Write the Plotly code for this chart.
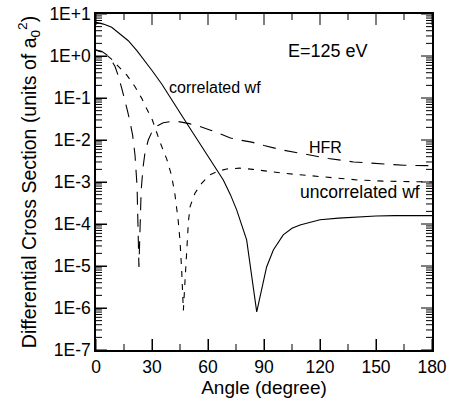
import plotly.graph_objects as go

# Angles (degree) and differential cross sections (units of a0^2)
corr_angle = [0, 4, 8.4, 12, 17.3, 22, 26.25, 30, 35.2, 40, 45, 48.6, 55, 60, 64.7, 68.2,
              72, 75.4, 80.7, 86.1, 91.4, 95, 100.3, 105, 109.3, 115, 120, 130, 140, 150,
              160, 170, 180]
corr_dcs = [6.31, 5.75, 4.82, 3.63, 2.31, 1.32, 0.773, 0.452, 0.215, 0.102, 0.0468, 0.0251,
            9.12e-3, 4.17e-3, 1.95e-3, 1.12e-3, 5.0e-4, 2.14e-4, 4.17e-5, 8.1e-7, 9.5e-6,
            2.4e-5, 5.5e-5, 7.9e-5, 9.5e-5, 1.12e-4, 1.26e-4, 1.38e-4, 1.48e-4, 1.55e-4,
            1.58e-4, 1.58e-4, 1.58e-4]

hfr_angle = [0, 3, 6, 8, 10.2, 12, 13.8, 15.5, 17, 18.5, 19.6, 20.9, 22, 23, 24.2, 25.2,
             26.25, 28, 30, 33, 36, 40, 44, 50, 55, 61, 66, 72, 78, 83.4, 90, 100, 111,
             124.5, 138, 152, 165, 180]
hfr_dcs = [1.38, 1.29, 1.05, 0.83, 0.56, 0.33, 0.17, 0.089, 0.047, 0.0234, 0.0132, 4.4e-3,
           7.9e-4, 9.5e-6, 6.3e-4, 2.24e-3, 5.0e-3, 0.01, 0.0158, 0.0219, 0.0257, 0.0275,
           0.0275, 0.0245, 0.0214, 0.0174, 0.0141, 0.0112, 9.8e-3, 8.9e-3, 7.4e-3, 5.75e-3,
           4.7e-3, 3.63e-3, 3.0e-3, 2.7e-3, 2.5e-3, 2.45e-3]

unc_angle = [0, 4, 8, 11.1, 16.4, 20.9, 24.5, 27.1, 30.2, 34.3, 37.9, 40.5, 42.3, 44, 45,
             45.9, 46.8, 47.7, 48.6, 49.5, 50.4, 53, 56.6, 61, 65.5, 70, 77, 84, 100, 120,
             127, 140, 154, 167, 180]
unc_dcs = [1.38, 1.2, 0.87, 0.62, 0.355, 0.186, 0.098, 0.056, 0.030, 8.9e-3, 3.5e-3, 1.41e-3,
           5.0e-4, 1.26e-4, 4.0e-5, 7.9e-6, 8.7e-7, 4.5e-6, 2.5e-5, 1.12e-4, 2.6e-4, 5.4e-4,
           9.3e-4, 1.48e-3, 1.82e-3, 2.04e-3, 2.14e-3, 2.0e-3, 1.62e-3, 1.35e-3, 1.23e-3,
           1.12e-3, 1.05e-3, 1.02e-3, 1.0e-3]

y_tickvals = [1e1, 1e0, 1e-1, 1e-2, 1e-3, 1e-4, 1e-5, 1e-6, 1e-7]
y_ticktext = ["1E+1", "1E+0", "1E-1", "1E-2", "1E-3", "1E-4", "1E-5", "1E-6", "1E-7"]
x_tickvals = [0, 30, 60, 90, 120, 150, 180]
x_minorvals = [15, 45, 75, 105, 135, 165]
y_minor = [m * 10.0 ** e for e in range(-7, 1) for m in range(2, 10)]

X_RANGE = [0, 180]
Y_RANGE = [-7, 1]  # log10 range

FONT = "Liberation Sans, Arial, Helvetica, sans-serif"

# plot area is 336 x 336 px; tick lengths converted to axis units
PLOT_W, PLOT_H = 336, 336
DEG_PER_PX = (X_RANGE[1] - X_RANGE[0]) / PLOT_W
DEC_PER_PX = (Y_RANGE[1] - Y_RANGE[0]) / PLOT_H
MAJOR_LEN, MINOR_LEN = 11, 6

fig = go.Figure()
fig.add_trace(go.Scatter(x=corr_angle, y=corr_dcs, mode="lines",
                         line=dict(color="black", width=1.1), showlegend=False))
fig.add_trace(go.Scatter(x=hfr_angle, y=hfr_dcs, mode="lines",
                         line=dict(color="black", width=1.1, dash="13px,9px"), showlegend=False))
fig.add_trace(go.Scatter(x=unc_angle, y=unc_dcs, mode="lines",
                         line=dict(color="black", width=1.1, dash="6px,7px"), showlegend=False))

# inward tick marks on all four sides (mirrored), as one line trace
tx, ty = [], []
for vals, ln in ((x_tickvals, MAJOR_LEN), (x_minorvals, MINOR_LEN)):
    d = ln * DEC_PER_PX
    for v in vals:
        tx += [v, v, None, v, v, None]
        ty += [10 ** Y_RANGE[0], 10 ** (Y_RANGE[0] + d), None,
               10 ** Y_RANGE[1], 10 ** (Y_RANGE[1] - d), None]
for vals, ln in ((y_tickvals, MAJOR_LEN), (y_minor, MINOR_LEN)):
    d = ln * DEG_PER_PX
    for v in vals:
        tx += [X_RANGE[0], X_RANGE[0] + d, None, X_RANGE[1], X_RANGE[1] - d, None]
        ty += [v, v, None, v, v, None]
fig.add_trace(go.Scatter(x=tx, y=ty, mode="lines", line=dict(color="black", width=1),
                         hoverinfo="skip", showlegend=False, cliponaxis=False,
                         connectgaps=False))

annots = [
    dict(text="E=125 eV", x=124.4, y=0.131, xanchor="center", yanchor="middle", size=18),
    dict(text="correlated wf", x=37.9, y=-0.76, xanchor="left", yanchor="middle", size=16),
    dict(text="HFR", x=123.2, y=-2.17, xanchor="center", yanchor="middle", size=16),
    dict(text="uncorrelated wf", x=141.4, y=-3.24, xanchor="center", yanchor="middle", size=17.5),
]
for a in annots:
    fig.add_annotation(text=a["text"], x=a["x"], y=a["y"], xref="x", yref="y",
                       xanchor=a["xanchor"], yanchor=a["yanchor"], showarrow=False,
                       font=dict(family=FONT, size=a["size"], color="black"))

fig.update_layout(
    template="none",
    width=450, height=398,
    margin=dict(l=96, r=18, t=14, b=48, autoexpand=False),
    paper_bgcolor="white", plot_bgcolor="white",
    font=dict(family=FONT, color="black", size=17.5),
    xaxis=dict(
        range=X_RANGE, tickmode="array", tickvals=x_tickvals,
        ticks="inside", ticklen=11, tickwidth=1, tickcolor="black",
        showline=True, linecolor="black", linewidth=1.5, mirror=True,
        showgrid=False, zeroline=False, automargin=False, ticklabeloverflow="allow",
        tickfont=dict(size=17.5),
        title=dict(text="Angle (degree)", font=dict(size=19), standoff=6),
    ),
    yaxis=dict(
        type="log", range=Y_RANGE, tickmode="array", tickvals=y_tickvals, ticktext=y_ticktext,
        ticks="inside", ticklen=11, tickwidth=1, tickcolor="black",
        showline=True, linecolor="black", linewidth=1.5, mirror=True,
        showgrid=False, zeroline=False, automargin=False, ticklabeloverflow="allow",
        tickfont=dict(size=17.5),
        title=dict(text="Differential Cross Section (units of a<sub>0</sub><sup>2</sup>)",
                   font=dict(size=19.5), standoff=8),
    ),
)

fig.write_html("out.html", config={"displayModeBar": False},
               post_script="document.body.style.margin='0';")
